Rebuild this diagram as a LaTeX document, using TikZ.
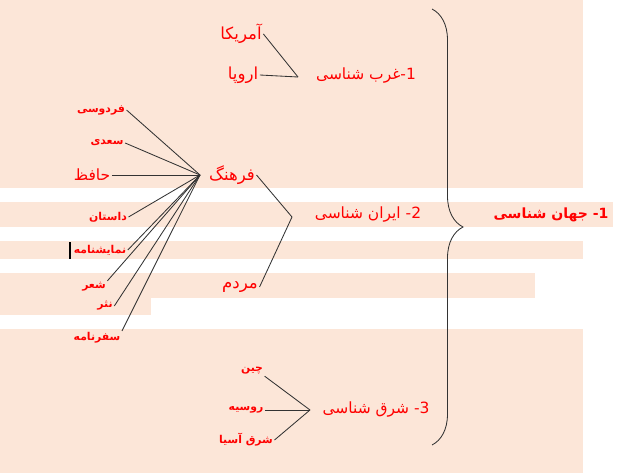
\documentclass[tikz,border=0pt]{standalone}
\usepackage{fontspec}
\usetikzlibrary{decorations.pathreplacing}
\newfontfamily\arabicfont[Script=Arabic]{DejaVu Sans}
\TeXXeTstate=1
\definecolor{peach}{RGB}{252,230,216}
\tikzset{band/.style = {fill=peach, draw=none}}
\tikzset{topic/.style = {text=red, inner sep=1pt, font=\arabicfont\fontsize{11}{13}\selectfont}}
\tikzset{item/.style = {text=red, inner sep=1pt, font=\arabicfont\fontsize{11.8}{14}\selectfont}}
\tikzset{leaf/.style = {text=red, inner sep=1pt, font=\arabicfont\bfseries\fontsize{7.7}{9}\selectfont}}
\tikzset{link/.style = {draw=black!80, line width=0.6pt}}

\begin{document}
\begin{tikzpicture}
          \useasboundingbox (0, 0) rectangle (15.7, 11.825);
          % background bands
          \path[band] (0, 11.825) rectangle (14.575, 7.125);
          \path[band] (0, 6.775) rectangle (15.325, 6.15);
          \path[band] (0, 5.8) rectangle (14.575, 5.35);
          \path[band] (0, 5.0) rectangle (13.375, 4.375);
          \path[band] (0, 4.375) rectangle (3.775, 3.95);
          \path[band] (0, 3.6) rectangle (14.575, 0);
          \fill[black] (1.725, 5.35) rectangle (1.775, 5.775);

          % main branch
          \node[topic, font=\arabicfont\bfseries\fontsize{10}{12}\selectfont] (Jahan) at (13.775, 6.45) {\beginR 1- جهان شناسی\endR};
          \coordinate (braceTop) at (10.8, 11.6);
          \coordinate (braceBot) at (10.8, 0.7);
          \draw[link, decorate, decoration={brace, amplitude=0.775cm}] (braceTop) -- (braceBot);

          % west
          \node[topic] (Gharb) at (9.15, 9.925) {\beginR 1-غرب شناسی\endR};
          \coordinate (vGharb) at (7.45, 9.9);
          \node[item] (Amrika) at (6.025, 10.975) {\beginR آمریکا\endR};
          \node[item] (Oroopa) at (6.075, 9.95) {\beginR اروپا\endR};
          \path[link] (Amrika.east) edge (vGharb);
          \path[link] (Oroopa.east) edge (vGharb);

          % iran
          \node[topic] (Iran) at (9.2, 6.45) {\beginR 2- ایران شناسی\endR};
          \coordinate (vIran) at (7.3, 6.4);
          \node[item] (Farhang) at (5.8, 7.45) {\beginR فرهنگ\endR};
          \node[item] (Mardom) at (6.0, 4.65) {\beginR مردم\endR};
          \path[link] (Farhang.east) edge (vIran);
          \path[link] (Mardom.east) edge (vIran);

          \coordinate (hub) at (5.0, 7.45);
          \node[leaf] (Ferdowsi) at (2.525, 9.075) {\beginR فردوسی\endR};
          \node[leaf] (Saadi) at (2.675, 8.25) {\beginR سعدی\endR};
          \node[item, font=\arabicfont\fontsize{11}{13}\selectfont] (Hafez) at (2.3, 7.45) {\beginR حافظ\endR};
          \node[leaf] (Dastan) at (2.7, 6.4) {\beginR داستان\endR};
          \node[leaf] (Namayesh) at (2.5, 5.575) {\beginR نمایشنامه\endR};
          \node[leaf] (Sher) at (2.35, 4.65) {\beginR شعر\endR};
          \node[leaf] (Nasr) at (2.625, 4.175) {\beginR نثر\endR};
          \node[leaf] (Safar) at (2.425, 3.375) {\beginR سفرنامه\endR};
          \path[link] (Ferdowsi.east) edge (hub);
          \path[link] (Saadi.east) edge (hub);
          \path[link] (Hafez.east) edge (hub);
          \path[link] (Dastan.east) edge (hub);
          \path[link] (Namayesh.east) edge (hub);
          \path[link] (Sher.north east) edge (hub);
          \path[link] (Nasr.east) edge (hub);
          \path[link] (Safar.north east) edge (hub);

          % east
          \node[topic] (Sharq) at (9.4, 1.575) {\beginR 3- شرق شناسی\endR};
          \coordinate (vSharq) at (7.75, 1.575);
          \node[leaf] (Chin) at (6.3, 2.55) {\beginR چین\endR};
          \node[leaf] (Rusiyeh) at (6.15, 1.575) {\beginR روسیه\endR};
          \node[leaf] (SharqAsia) at (6.15, 0.825) {\beginR شرق آسیا\endR};
          \path[link] (Chin.south east) edge (vSharq);
          \path[link] (Rusiyeh.east) edge (vSharq);
          \path[link] (SharqAsia.east) edge (vSharq);
        \end{tikzpicture}
\end{document}
